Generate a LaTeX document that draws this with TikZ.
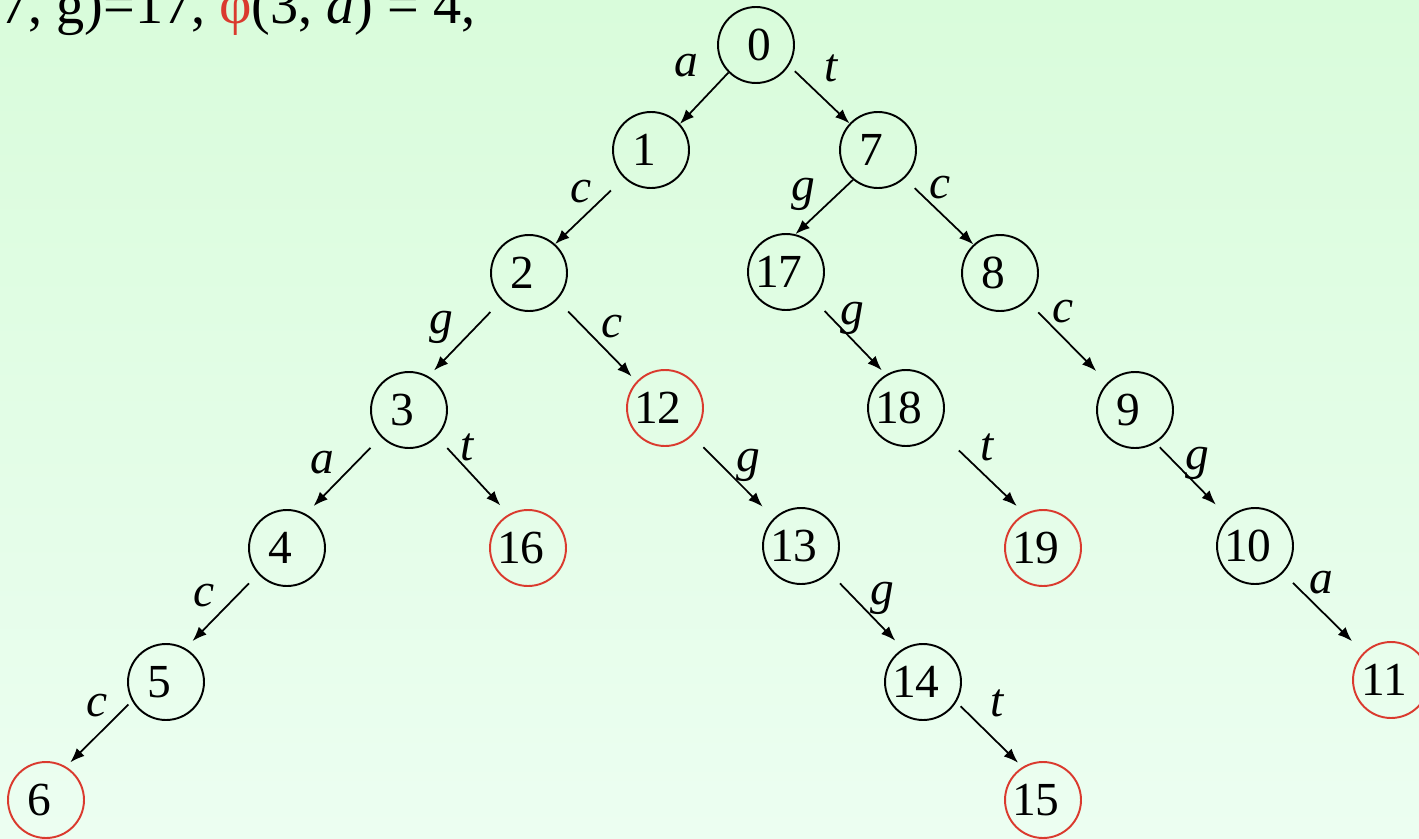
\documentclass[tikz,border=0pt]{standalone}
\usepackage{fontspec}
\setmainfont{Liberation Serif}
\definecolor{trieRojo}{HTML}{DA3A2E}
\definecolor{trieFondoA}{HTML}{D9FCDB}
\definecolor{trieFondoB}{HTML}{ECFEF1}
\usepackage{tikz}
\usetikzlibrary{
	arrows.meta,
	positioning,
	calc
}

\tikzset{
	nodo/.style={circle, draw=black, line width=1.1pt, minimum size=1.52cm, inner sep=0pt,
		font=\fontsize{27}{32}\selectfont, execute at end node=\kern0.3em},
	final/.style={nodo, draw=trieRojo},
	flecha/.style={-{Latex[length=2.9mm,width=2.2mm]}, line width=1pt},
	etiq/.style={anchor=base, inner sep=0pt, font=\fontsize{27}{32}\selectfont\itshape}
}

\begin{document}
\begin{tikzpicture}[x=0.02cm, y=-0.02cm]
		
		% Fondo degradado
		\useasboundingbox (0,0) rectangle (1419,838);
		\shade[top color=trieFondoA, bottom color=trieFondoB] (0,0) rectangle (1419,838);
		
		% Texto cortado arriba
		\node[anchor=base west, inner sep=0pt, font=\fontsize{32}{38}\selectfont] (formula) at (0,24)
			{7, g)=17, \textcolor{trieRojo}{φ}(3, \textit{a}) = 4,};
		
		% Estados del trie
		\node[nodo] (q0) at (756,45) {\kern0.45em 0};
		\foreach \n/\x/\y in {1/651/150, 7/878/150, 2/529/273, 17/786/272,
			8/1000/273, 3/409/410, 9/1135/410, 4/287/548, 13/801/546,
			10/1255/546, 5/166/682, 14/923/682}{
			\node[nodo] (q\n) at (\x,\y) {\n};
		}
		\node[nodo] (q18) at (906,408) {18};
		
		% Estados finales
		\foreach \n/\x/\y in {12/665/408, 16/528/548, 19/1043/548, 6/46/800,
			15/1043/800, 11/1391/680}{
			\node[final] (q\n) at (\x,\y) {\n};
		}
		
		% Transiciones
		\foreach \a/\sa/\b/\eb/\ss/\se in {0/225/1/42/0/0, 0/328/7/137/8/0,
			1/226/2/48/18/0, 7/230/17/76/0/0, 7/313/8/133/14/0,
			2/225/3/60/16/8, 2/316/12/137/16/7, 17/315/18/121/16/6,
			8/314/9/135/16/16, 3/224/4/61/15/11, 3/316/16/120/15/12,
			12/314/13/134/16/16, 18/325/19/118/29/11, 9/302/10/133/6/18,
			4/222/5/60/13/10, 13/317/14/121/15/11, 10/316/11/135/14/16,
			5/209/6/59/5/6, 14/329/15/122/6/6}{
			\draw[flecha, shorten <=\ss*0.569pt, shorten >=\se*0.569pt]
				(q\a.\sa) -- (q\b.\eb);
		}
		
		% Etiquetas de las transiciones
		\foreach \i/\x/\y/\l in {1/686/77/a, 2/831/82/t, 3/581/202/c, 4/803/200/g,
			5/940/198/c, 6/441/333/g, 7/612/337/c, 8/852/324/g, 9/1063/322/c,
			10/322/473/a, 11/467/460/t, 12/748/471/g, 13/987/460/t, 14/1197/469/g,
			15/204/606/c, 16/882/604/g, 17/1321/593/a, 18/97/716/c, 19/997/716/t}{
			\node[etiq] (e\i) at (\x,\y) {\l};
		}
		
	\end{tikzpicture}
\end{document}
